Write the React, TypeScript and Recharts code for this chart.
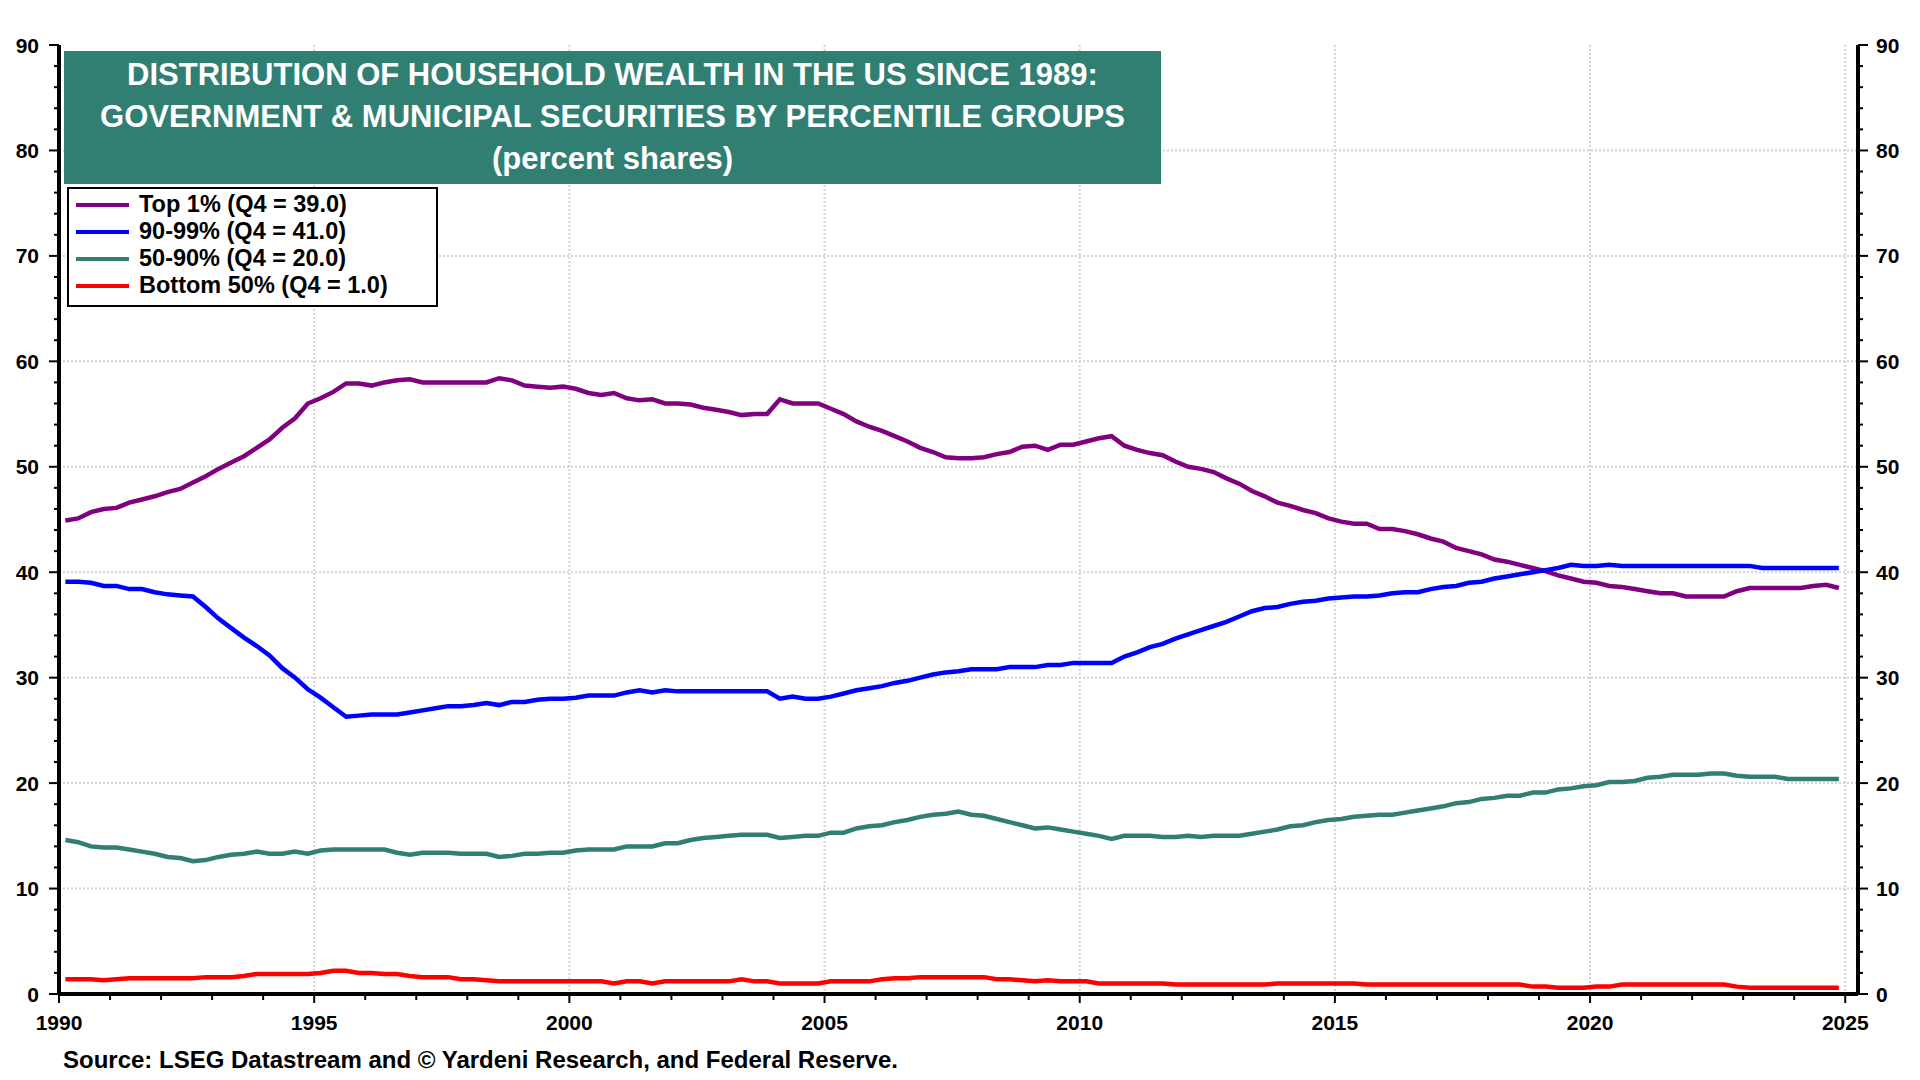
import React from "react";
import { CartesianGrid, Legend, Line, LineChart, XAxis, YAxis } from "recharts";

// quarterly shares, 1990 Q1 .. 2024 Q4 (percent)
const top1 = [
  44.9, 45.1, 45.7, 46.0, 46.1, 46.6, 46.9, 47.2, 47.6, 47.9,
  48.5, 49.1, 49.8, 50.4, 51.0, 51.8, 52.6, 53.7, 54.6, 56.0,
  56.5, 57.1, 57.9, 57.9, 57.7, 58.0, 58.2, 58.3, 58.0, 58.0,
  58.0, 58.0, 58.0, 58.0, 58.4, 58.2, 57.7, 57.6, 57.5, 57.6,
  57.4, 57.0, 56.8, 57.0, 56.5, 56.3, 56.4, 56.0, 56.0, 55.9,
  55.6, 55.4, 55.2, 54.9, 55.0, 55.0, 56.4, 56.0, 56.0, 56.0,
  55.5, 55.0, 54.3, 53.8, 53.4, 52.9, 52.4, 51.8, 51.4, 50.9,
  50.8, 50.8, 50.9, 51.2, 51.4, 51.9, 52.0, 51.6, 52.1, 52.1,
  52.4, 52.7, 52.9, 52.0, 51.6, 51.3, 51.1, 50.5, 50.0, 49.8,
  49.5, 48.9, 48.4, 47.7, 47.2, 46.6, 46.3, 45.9, 45.6, 45.1,
  44.8, 44.6, 44.6, 44.1, 44.1, 43.9, 43.6, 43.2, 42.9, 42.3,
  42.0, 41.7, 41.2, 41.0, 40.7, 40.4, 40.1, 39.7, 39.4, 39.1,
  39.0, 38.7, 38.6, 38.4, 38.2, 38.0, 38.0, 37.7, 37.7, 37.7,
  37.7, 38.2, 38.5, 38.5, 38.5, 38.5, 38.5, 38.7, 38.8, 38.5,
];

const next9 = [
  39.1, 39.1, 39.0, 38.7, 38.7, 38.4, 38.4, 38.1, 37.9, 37.8,
  37.7, 36.7, 35.6, 34.7, 33.8, 33.0, 32.1, 30.9, 30.0, 28.9,
  28.1, 27.2, 26.3, 26.4, 26.5, 26.5, 26.5, 26.7, 26.9, 27.1,
  27.3, 27.3, 27.4, 27.6, 27.4, 27.7, 27.7, 27.9, 28.0, 28.0,
  28.1, 28.3, 28.3, 28.3, 28.6, 28.8, 28.6, 28.8, 28.7, 28.7,
  28.7, 28.7, 28.7, 28.7, 28.7, 28.7, 28.0, 28.2, 28.0, 28.0,
  28.2, 28.5, 28.8, 29.0, 29.2, 29.5, 29.7, 30.0, 30.3, 30.5,
  30.6, 30.8, 30.8, 30.8, 31.0, 31.0, 31.0, 31.2, 31.2, 31.4,
  31.4, 31.4, 31.4, 32.0, 32.4, 32.9, 33.2, 33.7, 34.1, 34.5,
  34.9, 35.3, 35.8, 36.3, 36.6, 36.7, 37.0, 37.2, 37.3, 37.5,
  37.6, 37.7, 37.7, 37.8, 38.0, 38.1, 38.1, 38.4, 38.6, 38.7,
  39.0, 39.1, 39.4, 39.6, 39.8, 40.0, 40.2, 40.4, 40.7, 40.6,
  40.6, 40.7, 40.6, 40.6, 40.6, 40.6, 40.6, 40.6, 40.6, 40.6,
  40.6, 40.6, 40.6, 40.4, 40.4, 40.4, 40.4, 40.4, 40.4, 40.4,
];

const mid40 = [
  14.6, 14.4, 14.0, 13.9, 13.9, 13.7, 13.5, 13.3, 13.0, 12.9,
  12.6, 12.7, 13.0, 13.2, 13.3, 13.5, 13.3, 13.3, 13.5, 13.3,
  13.6, 13.7, 13.7, 13.7, 13.7, 13.7, 13.4, 13.2, 13.4, 13.4,
  13.4, 13.3, 13.3, 13.3, 13.0, 13.1, 13.3, 13.3, 13.4, 13.4,
  13.6, 13.7, 13.7, 13.7, 14.0, 14.0, 14.0, 14.3, 14.3, 14.6,
  14.8, 14.9, 15.0, 15.1, 15.1, 15.1, 14.8, 14.9, 15.0, 15.0,
  15.3, 15.3, 15.7, 15.9, 16.0, 16.3, 16.5, 16.8, 17.0, 17.1,
  17.3, 17.0, 16.9, 16.6, 16.3, 16.0, 15.7, 15.8, 15.6, 15.4,
  15.2, 15.0, 14.7, 15.0, 15.0, 15.0, 14.9, 14.9, 15.0, 14.9,
  15.0, 15.0, 15.0, 15.2, 15.4, 15.6, 15.9, 16.0, 16.3, 16.5,
  16.6, 16.8, 16.9, 17.0, 17.0, 17.2, 17.4, 17.6, 17.8, 18.1,
  18.2, 18.5, 18.6, 18.8, 18.8, 19.1, 19.1, 19.4, 19.5, 19.7,
  19.8, 20.1, 20.1, 20.2, 20.5, 20.6, 20.8, 20.8, 20.8, 20.9,
  20.9, 20.7, 20.6, 20.6, 20.6, 20.4, 20.4, 20.4, 20.4, 20.4,
];

const bottom50 = [
  1.4, 1.4, 1.4, 1.3, 1.4, 1.5, 1.5, 1.5, 1.5, 1.5,
  1.5, 1.6, 1.6, 1.6, 1.7, 1.9, 1.9, 1.9, 1.9, 1.9,
  2.0, 2.2, 2.2, 2.0, 2.0, 1.9, 1.9, 1.7, 1.6, 1.6,
  1.6, 1.4, 1.4, 1.3, 1.2, 1.2, 1.2, 1.2, 1.2, 1.2,
  1.2, 1.2, 1.2, 1.0, 1.2, 1.2, 1.0, 1.2, 1.2, 1.2,
  1.2, 1.2, 1.2, 1.4, 1.2, 1.2, 1.0, 1.0, 1.0, 1.0,
  1.2, 1.2, 1.2, 1.2, 1.4, 1.5, 1.5, 1.6, 1.6, 1.6,
  1.6, 1.6, 1.6, 1.4, 1.4, 1.3, 1.2, 1.3, 1.2, 1.2,
  1.2, 1.0, 1.0, 1.0, 1.0, 1.0, 1.0, 0.9, 0.9, 0.9,
  0.9, 0.9, 0.9, 0.9, 0.9, 1.0, 1.0, 1.0, 1.0, 1.0,
  1.0, 1.0, 0.9, 0.9, 0.9, 0.9, 0.9, 0.9, 0.9, 0.9,
  0.9, 0.9, 0.9, 0.9, 0.9, 0.7, 0.7, 0.6, 0.6, 0.6,
  0.7, 0.7, 0.9, 0.9, 0.9, 0.9, 0.9, 0.9, 0.9, 0.9,
  0.9, 0.7, 0.6, 0.6, 0.6, 0.6, 0.6, 0.6, 0.6, 0.6,
];

const seriesNames = [
  "Top 1% (Q4 = 39.0)",
  "90-99% (Q4 = 41.0)",
  "50-90% (Q4 = 20.0)",
  "Bottom 50% (Q4 = 1.0)",
];

const titleLines = [
  "DISTRIBUTION OF HOUSEHOLD WEALTH IN THE US SINCE 1989:",
  "GOVERNMENT & MUNICIPAL SECURITIES BY PERCENTILE GROUPS",
  "(percent shares)",
];

const sourceText = "Source: LSEG Datastream and \u00a9 Yardeni Research, and Federal Reserve.";

const yearTicks = Array.from({ length: 36 }, (_, i) => 1990 + i);
const yTicks = Array.from({ length: 46 }, (_, i) => i * 2);
const yGrid = [10, 20, 30, 40, 50, 60, 70, 80];
const xGrid = [1995, 2000, 2005, 2010, 2015, 2020, 2025];

const FONT = "'Liberation Sans', Arial, Helvetica, sans-serif";
const TEAL = "#307f72";
const X_MAX = 2025.25;
const LINE_W = 4.5;

const rows = top1.map((v, i) => ({
  t: 1990.125 + i * 0.25,
  top1: v,
  next9: next9[i],
  mid40: mid40[i],
  bottom50: bottom50[i],
}));

function YTick(props: any) {
  const { x, y, payload, side } = props;
  const v = payload.value as number;
  const major = v % 10 === 0;
  const dir = side === "left" ? -1 : 1;
  const len = major ? 10 : 5;
  return (
    <g>
      <line x1={x} x2={x + dir * len} y1={y} y2={y} stroke="#000" strokeWidth={2} />
      {major && (
        <text
          x={side === "left" ? x - 20 : x + 18}
          y={y}
          dy="0.36em"
          textAnchor={side === "left" ? "end" : "start"}
          fontFamily={FONT}
          fontWeight="bold"
          fontSize={21}
          fill="#000"
        >
          {v}
        </text>
      )}
    </g>
  );
}

function XTick(props: any) {
  const { x, y, payload } = props;
  const v = payload.value as number;
  const major = v % 5 === 0;
  return (
    <g>
      <line x1={x} x2={x} y1={y} y2={y + (major ? 9 : 6)} stroke="#000" strokeWidth={2} />
      {major && (
        <text
          x={x}
          y={y + 28}
          dy="0.36em"
          textAnchor="middle"
          fontFamily={FONT}
          fontWeight="bold"
          fontSize={21}
          fill="#000"
        >
          {v}
        </text>
      )}
    </g>
  );
}

function LegendBox(props: any) {
  const items = [...(props.payload || [])].sort(
    (a: any, b: any) => seriesNames.indexOf(a.value) - seriesNames.indexOf(b.value)
  );
  return (
    <div
      style={{
        border: "2px solid #000",
        background: "#fff",
        width: 367,
        height: 114,
        boxSizing: "content-box",
        paddingTop: 2,
      }}
    >
      {items.map((item: any) => (
        <div
          key={item.value}
          style={{ display: "flex", alignItems: "center", height: 27, fontFamily: FONT }}
        >
          <div style={{ width: 53, height: 4, background: item.color, marginLeft: 7, marginRight: 10 }} />
          <span style={{ fontSize: 23.5, fontWeight: "bold", color: "#000", whiteSpace: "nowrap" }}>
            {item.value}
          </span>
        </div>
      ))}
    </div>
  );
}

export default function App() {
  return (
    <div
      style={{
        position: "absolute",
        left: 0,
        top: 0,
        width: 1920,
        height: 1080,
        background: "#fff",
        fontFamily: FONT,
      }}
    >
      <LineChart
        width={1920}
        height={1080}
        data={rows}
        margin={{ top: 45, right: 12, bottom: 46, left: 9 }}
      >
        <CartesianGrid
          xAxisId="x"
          yAxisId="left"
          stroke="#d4d4d4"
          strokeWidth={2}
          strokeDasharray="2 2"
          horizontalValues={yGrid}
          verticalValues={xGrid}
        />
        <XAxis
          xAxisId="x"
          dataKey="t"
          type="number"
          domain={[1990, X_MAX]}
          ticks={yearTicks}
          interval={0}
          allowDataOverflow
          tickLine={false}
          tickSize={0}
          tickMargin={0}
          height={40}
          axisLine={{ stroke: "#000", strokeWidth: 4 }}
          tick={(p: any) => <XTick {...p} />}
        />
        <XAxis
          xAxisId="top"
          orientation="top"
          type="number"
          domain={[1990, X_MAX]}
          allowDataOverflow
          tick={false}
          tickLine={false}
          height={0}
          axisLine={{ stroke: "#000", strokeWidth: 4 }}
        />
        <YAxis
          yAxisId="left"
          domain={[0, 90]}
          ticks={yTicks}
          interval={0}
          allowDataOverflow
          tickLine={false}
          tickSize={0}
          tickMargin={0}
          width={50}
          axisLine={{ stroke: "#000", strokeWidth: 4 }}
          tick={(p: any) => <YTick {...p} side="left" />}
        />
        <YAxis
          yAxisId="right"
          orientation="right"
          domain={[0, 90]}
          ticks={yTicks}
          interval={0}
          allowDataOverflow
          tickLine={false}
          tickSize={0}
          tickMargin={0}
          width={50}
          axisLine={{ stroke: "#000", strokeWidth: 4 }}
          tick={(p: any) => <YTick {...p} side="right" />}
        />
        <Line
          xAxisId="x"
          yAxisId="left"
          dataKey="top1"
          name={seriesNames[0]}
          stroke="#800080"
          strokeWidth={LINE_W}
          dot={false}
          type="linear"
          isAnimationActive={false}
        />
        <Line
          xAxisId="x"
          yAxisId="left"
          dataKey="next9"
          name={seriesNames[1]}
          stroke="#0000ff"
          strokeWidth={LINE_W}
          dot={false}
          type="linear"
          isAnimationActive={false}
        />
        <Line
          xAxisId="x"
          yAxisId="left"
          dataKey="mid40"
          name={seriesNames[2]}
          stroke={TEAL}
          strokeWidth={LINE_W}
          dot={false}
          type="linear"
          isAnimationActive={false}
        />
        <Line
          xAxisId="x"
          yAxisId="left"
          dataKey="bottom50"
          name={seriesNames[3]}
          stroke="#ff0000"
          strokeWidth={LINE_W}
          dot={false}
          type="linear"
          isAnimationActive={false}
        />
        <Legend
          layout="horizontal"
          verticalAlign="middle"
          align="center"
          content={(p: any) => <LegendBox {...p} />}
          wrapperStyle={{ position: "absolute", left: 67, top: 187, width: "auto", height: "auto" }}
        />
      </LineChart>

      <div
        style={{
          position: "absolute",
          left: 64,
          top: 51,
          width: 1097,
          height: 133,
          background: TEAL,
          color: "#fff",
          textAlign: "center",
          fontWeight: "bold",
          fontSize: 31,
          lineHeight: "42px",
          paddingTop: 3,
          boxSizing: "border-box",
        }}
      >
        {titleLines.map((line) => (
          <div key={line} style={{ whiteSpace: "nowrap" }}>
            {line}
          </div>
        ))}
      </div>

      <div
        style={{
          position: "absolute",
          left: 63,
          top: 1046,
          fontSize: 24,
          fontWeight: "bold",
          color: "#000",
          whiteSpace: "nowrap",
        }}
      >
        {sourceText}
      </div>
    </div>
  );
}
